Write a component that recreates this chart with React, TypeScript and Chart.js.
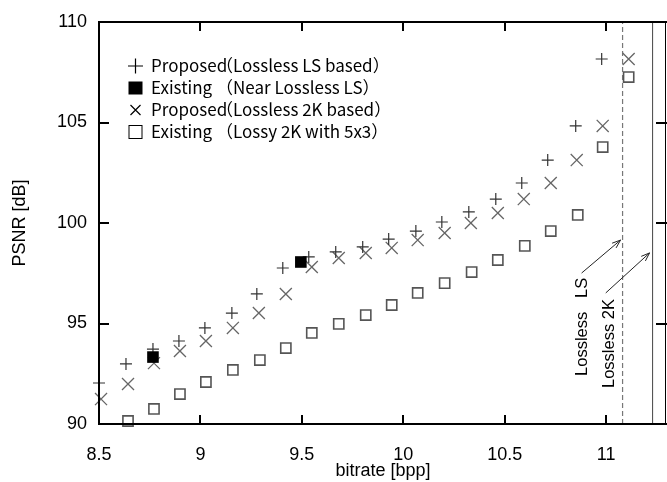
import { useEffect, useRef } from "react";
import { Chart, registerables } from "chart.js";
Chart.register(...registerables);

// + Proposed (Lossless LS based)
const proposedLsX = [8.5, 8.633, 8.766, 8.894, 9.022, 9.155, 9.278, 9.406, 9.534, 9.667, 9.8, 9.928, 10.062, 10.19, 10.323, 10.456, 10.584, 10.712, 10.85, 10.978];
const proposedLsY = [92.04, 92.99, 93.73, 94.13, 94.78, 95.52, 96.47, 97.76, 98.31, 98.56, 98.81, 99.2, 99.6, 100.05, 100.55, 101.19, 101.99, 103.13, 104.83, 108.16];
// ■ Existing (Near Lossless LS)
const nearLsX = [8.766, 9.495];
const nearLsY = [93.33, 98.06];
// × Proposed (Lossless 2K based)
const proposed2kX = [8.51, 8.643, 8.771, 8.899, 9.027, 9.16, 9.288, 9.421, 9.549, 9.682, 9.815, 9.943, 10.071, 10.204, 10.333, 10.466, 10.594, 10.727, 10.855, 10.983, 11.111];
const proposed2kY = [91.24, 91.99, 93.03, 93.63, 94.13, 94.78, 95.52, 96.47, 97.81, 98.26, 98.51, 98.76, 99.15, 99.5, 100.0, 100.5, 101.19, 101.99, 103.13, 104.83, 108.16];
// □ Existing (Lossy 2K with 5x3)
const lossy2kX = [8.643, 8.771, 8.899, 9.027, 9.16, 9.293, 9.421, 9.549, 9.682, 9.815, 9.943, 10.071, 10.204, 10.337, 10.466, 10.599, 10.727, 10.86, 10.983, 11.111];
const lossy2kY = [90.15, 90.75, 91.49, 92.09, 92.69, 93.18, 93.78, 94.53, 94.98, 95.42, 95.92, 96.52, 97.01, 97.56, 98.16, 98.86, 99.6, 100.4, 103.78, 107.26];

// Lossless limits (vertical lines)
const losslessLsLimit = 11.081;
const lossless2kLimit = 11.229;

// Annotation arrows: [fromX, fromY, toX, toY]
const arrowLs = [10.879, 97.51, 11.071, 99.15];
const arrow2k = [10.998, 96.52, 11.214, 98.51];
// Annotation labels: anchor [x, y]
const labelLsText = "Lossless   LS";
const labelLsPos = [10.882, 92.39];
const label2kText = "Lossless 2K";
const label2kPos = [11.015, 91.79];

// Axes
const xTicks = [8.5, 9, 9.5, 10, 10.5, 11];
const xTickLabels = ["8.5", "9", "9.5", "10", "10.5", "11"];
const yTicks = [90, 95, 100, 105, 110];
const yTickLabels = ["90", "95", "100", "105", "110"];
const xTitle = "bitrate [bpp]";
const yTitle = "PSNR [dB]";

// Legend
const legendNames = ["Proposed", "Existing", "Proposed", "Existing"];
const legendNotes = ["（Lossless LS based）", "（Near Lossless LS）", "（Lossless 2K based）", "（Lossy 2K with 5x3）"];

const toPts = (xs: number[], ys: number[]) => xs.map((x, i) => ({ x, y: ys[i] }));

const AXIS_FONT = '"Liberation Sans", Arial, sans-serif';
const LEGEND_FONT = '"Noto Sans CJK JP", "Noto Sans", sans-serif';

const decorPlugin = {
  id: "decor",
  afterDatasetsDraw(chart: any) {
    const { ctx, chartArea: a, scales } = chart;
    const xs = scales.x;
    const ys = scales.y;
    ctx.save();
    ctx.strokeStyle = "#000";
    ctx.lineCap = "butt";
    // frame
    ctx.lineWidth = 2;
    ctx.beginPath();
    ctx.moveTo(a.right, a.top);
    ctx.lineTo(a.left, a.top);
    ctx.lineTo(a.left, a.bottom);
    ctx.lineTo(a.right, a.bottom);
    ctx.stroke();
    ctx.lineWidth = 1;
    ctx.beginPath();
    ctx.moveTo(a.right - 1.5, a.top);
    ctx.lineTo(a.right - 1.5, a.bottom);
    ctx.stroke();
    // inward ticks
    ctx.lineWidth = 2;
    ctx.beginPath();
    xTicks.forEach((v) => {
      const px = Math.round(xs.getPixelForValue(v));
      ctx.moveTo(px, a.bottom);
      ctx.lineTo(px, a.bottom - 9);
      ctx.moveTo(px, a.top);
      ctx.lineTo(px, a.top + 9);
    });
    yTicks.forEach((v) => {
      const py = Math.round(ys.getPixelForValue(v));
      ctx.moveTo(a.left, py);
      ctx.lineTo(a.left + 10, py);
      ctx.moveTo(a.right, py);
      ctx.lineTo(a.right - 11, py);
    });
    ctx.stroke();

    // arrows
    ctx.lineWidth = 1;
    ctx.strokeStyle = "#222";
    [arrowLs, arrow2k].forEach((ar) => {
      const x1 = xs.getPixelForValue(ar[0]);
      const y1 = ys.getPixelForValue(ar[1]);
      const x2 = xs.getPixelForValue(ar[2]);
      const y2 = ys.getPixelForValue(ar[3]);
      const ang = Math.atan2(y2 - y1, x2 - x1);
      const hl = 9;
      const hw = 0.35;
      ctx.beginPath();
      ctx.moveTo(x1, y1);
      ctx.lineTo(x2, y2);
      ctx.moveTo(x2 - hl * Math.cos(ang - hw), y2 - hl * Math.sin(ang - hw));
      ctx.lineTo(x2, y2);
      ctx.lineTo(x2 - hl * Math.cos(ang + hw), y2 - hl * Math.sin(ang + hw));
      ctx.stroke();
    });

    // rotated labels
    ctx.fillStyle = "#000";
    ctx.font = `16.5px ${AXIS_FONT}`;
    ctx.textAlign = "left";
    ctx.textBaseline = "middle";
    [
      [labelLsText, labelLsPos],
      [label2kText, label2kPos],
    ].forEach(([t, p]: any) => {
      ctx.save();
      ctx.translate(xs.getPixelForValue(p[0]), ys.getPixelForValue(p[1]));
      ctx.rotate(-Math.PI / 2);
      ctx.fillText(t, 0, 0);
      ctx.restore();
    });

    // legend
    const symX = 135.5;
    const nameX = 151;
    const noteX = 216;
    const rowY = [66, 88, 110, 132];
    ctx.font = `17px ${LEGEND_FONT}`;
    ctx.textBaseline = "middle";
    ctx.fillStyle = "#000";
    rowY.forEach((ry, i) => {
      ctx.fillText(legendNames[i], nameX, ry);
      ctx.fillText(legendNotes[i], noteX, ry);
    });
    ctx.strokeStyle = "#000";
    ctx.lineWidth = 1.2;
    // +
    ctx.beginPath();
    ctx.moveTo(symX - 7.5, rowY[0]);
    ctx.lineTo(symX + 7.5, rowY[0]);
    ctx.moveTo(symX, rowY[0] - 7.5);
    ctx.lineTo(symX, rowY[0] + 7.5);
    ctx.stroke();
    // ■
    ctx.fillRect(symX - 7, rowY[1] - 6.5, 14, 13);
    // ×
    ctx.beginPath();
    ctx.moveTo(symX - 5, rowY[2] - 5);
    ctx.lineTo(symX + 5, rowY[2] + 5);
    ctx.moveTo(symX + 5, rowY[2] - 5);
    ctx.lineTo(symX - 5, rowY[2] + 5);
    ctx.stroke();
    // □
    ctx.lineWidth = 1;
    ctx.strokeRect(symX - 6.5, rowY[3] - 6.5, 13, 13);
    ctx.restore();
  },
};

export default function App() {
  const ref = useRef<HTMLCanvasElement | null>(null);
  useEffect(() => {
    document.body.style.margin = "0";
    const canvas = ref.current;
    if (!canvas) return;
    const axisFont = { family: AXIS_FONT, size: 18 };
    const chart = new Chart(canvas, {
      type: "scatter",
      data: {
        datasets: [
          {
            label: "Existing (Near Lossless LS)",
            data: toPts(nearLsX, nearLsY),
            pointStyle: "rect",
            pointRadius: 8.2,
            backgroundColor: "#000",
            borderColor: "#000",
            borderWidth: 0,
            clip: false as any,
          },
          {
            label: "Proposed (Lossless LS based)",
            data: toPts(proposedLsX, proposedLsY),
            pointStyle: "cross",
            pointRadius: 6,
            borderColor: "#333",
            borderWidth: 1.2,
            clip: false as any,
          },
          {
            label: "Proposed (Lossless 2K based)",
            data: toPts(proposed2kX, proposed2kY),
            pointStyle: "crossRot",
            pointRadius: 8.5,
            borderColor: "#666",
            borderWidth: 1.3,
            clip: false as any,
          },
          {
            label: "Existing (Lossy 2K with 5x3)",
            data: toPts(lossy2kX, lossy2kY),
            pointStyle: "rect",
            pointRadius: 7.2,
            backgroundColor: "rgba(255,255,255,0)",
            borderColor: "#555",
            borderWidth: 1.6,
            clip: false as any,
          },
          {
            label: "Lossless LS",
            data: [
              { x: losslessLsLimit, y: 90 },
              { x: losslessLsLimit, y: 110 },
            ],
            showLine: true,
            pointRadius: 0,
            borderColor: "#777",
            borderWidth: 1.2,
            borderDash: [5, 3],
          },
          {
            label: "Lossless 2K",
            data: [
              { x: lossless2kLimit, y: 90 },
              { x: lossless2kLimit, y: 110 },
            ],
            showLine: true,
            pointRadius: 0,
            borderColor: "#444",
            borderWidth: 1,
          },
        ],
      },
      options: {
        responsive: false,
        animation: false,
        events: [],
        layout: { autoPadding: false, padding: { top: 22, left: 0, right: 0, bottom: 0 } },
        plugins: { legend: { display: false }, tooltip: { enabled: false } },
        scales: {
          x: {
            type: "linear",
            min: 8.5,
            max: 11.3,
            afterBuildTicks: (s: any) => {
              s.ticks = xTicks.map((value) => ({ value }));
            },
            afterFit: (s: any) => {
              s.height = 58;
              s.paddingLeft = 0;
              s.paddingRight = 0;
            },
            grid: { display: false, drawTicks: false },
            border: { display: false },
            ticks: {
              padding: 20,
              color: "#000",
              font: axisFont,
              maxRotation: 0,
              autoSkip: false,
              callback: (v: any) => xTickLabels[xTicks.indexOf(Number(v))] ?? "",
            },
            title: {
              display: true,
              text: xTitle,
              color: "#000",
              font: axisFont,
              padding: { top: 0, bottom: 0 },
            },
          },
          y: {
            type: "linear",
            min: 90,
            max: 110,
            afterBuildTicks: (s: any) => {
              s.ticks = yTicks.map((value) => ({ value }));
            },
            afterFit: (s: any) => {
              s.width = 99;
              s.paddingTop = 0;
              s.paddingBottom = 0;
            },
            grid: { display: false, drawTicks: false },
            border: { display: false },
            ticks: {
              padding: 12,
              color: "#000",
              font: axisFont,
              autoSkip: false,
              callback: (v: any) => yTickLabels[yTicks.indexOf(Number(v))] ?? "",
            },
            title: {
              display: true,
              text: yTitle,
              color: "#000",
              font: axisFont,
              padding: { top: 9, bottom: 0 },
            },
          },
        },
      },
      plugins: [decorPlugin],
    });
    return () => chart.destroy();
  }, []);
  return (
    <div style={{ position: "absolute", left: 0, top: 0, width: 667, height: 482, background: "#fff" }}>
      <canvas ref={ref} width={667} height={482} style={{ display: "block" }} />
    </div>
  );
}
